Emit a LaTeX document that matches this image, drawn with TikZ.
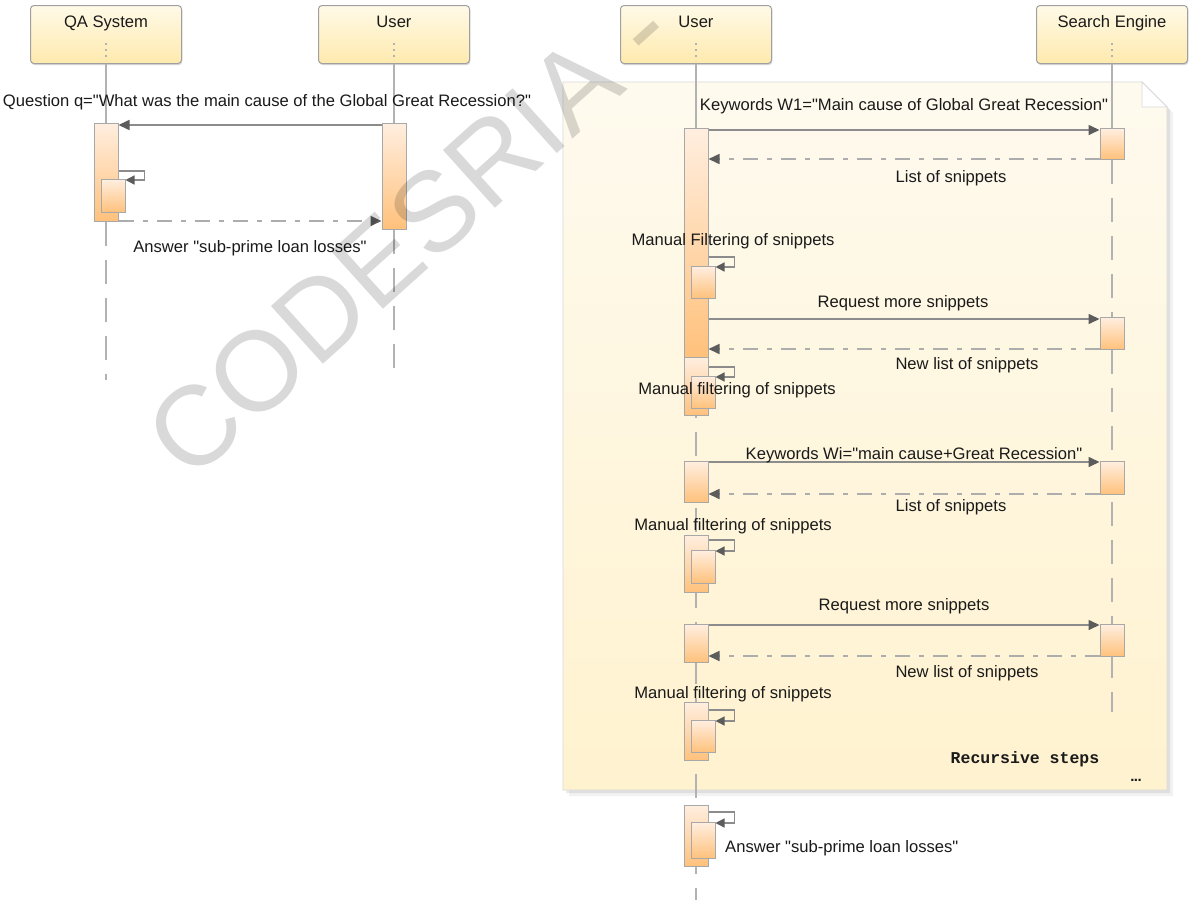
\documentclass[tikz,border=0pt]{standalone}
\usepackage{fontspec}
\setmainfont{Liberation Sans}[Ligatures=TeXOff]
\newfontfamily\codefont{Liberation Mono}
\usetikzlibrary{arrows.meta,calc,shadows}

\definecolor{txt}{HTML}{1A1A1A}
\definecolor{headedge}{HTML}{A0A0A0}
\definecolor{actedge}{HTML}{A8A8A8}
\definecolor{msgline}{HTML}{8C8C8C}
\definecolor{retline}{HTML}{ADADAD}
\definecolor{tipcol}{HTML}{5C5C5C}
\definecolor{acttop}{HTML}{FFEEDF}
\definecolor{actbot}{HTML}{FFC17B}
\definecolor{headtop}{HTML}{FFFAE7}
\definecolor{headbot}{HTML}{FFEAAE}
\definecolor{notetop}{HTML}{FEFAEE}
\definecolor{notebot}{HTML}{FFF2CF}
\definecolor{noteedge}{HTML}{DADADA}
\definecolor{lifecol}{HTML}{B2B2B2}

\tikzset{
  head/.style={draw=headedge, line width=1pt, rounded corners=3.5pt,
    top color=headtop, bottom color=headbot, minimum width=151pt,
    minimum height=58pt, anchor=north, inner sep=0pt,
    drop shadow={shadow xshift=0.8pt, shadow yshift=-1.6pt, opacity=0.3}},
  headtext/.style={inner sep=0pt, anchor=base, text=txt},
  headdots/.style={draw=lifecol, line width=1.5pt, dash pattern=on 2pt off 4pt},
  act/.style={draw=actedge, line width=1pt, top color=acttop,
    bottom color=actbot, minimum width=24pt, inner sep=0pt, anchor=north},
  lbl/.style={inner sep=0pt, text=txt},
  msg/.style={draw=msgline, line width=1.6pt,
    -{Triangle[length=11pt,width=10pt,color=tipcol]}},
  ret/.style={draw=retline, line width=1.6pt,
    dash pattern=on 15pt off 9pt on 5pt off 9pt,
    -{Triangle[length=11pt,width=10pt,color=tipcol]}},
  selfcall/.style={draw=msgline, line width=1.3pt,
    -{Triangle[length=9pt,width=9pt,color=tipcol]}},
  lifesolid/.style={draw=lifecol, line width=1.3pt},
  lifedash/.style={draw=lifecol, line width=1.3pt, dash pattern=on 24pt off 14pt},
}

\begin{document}
\begin{tikzpicture}[x=1pt, y=-1pt, font=\fontsize{16.6}{19}\selectfont]
\useasboundingbox (0,0) rectangle (1189,900);
\fill[white] (0,0) rectangle (1189,900);

% ---------- note frame for the recursive part ----------
\fill[black, opacity=0.05] (569,88) -- (1148,88) -- (1173,113) -- (1173,796) -- (569,796) -- cycle;
\fill[black, opacity=0.08] (566,85) -- (1145,85) -- (1170,110) -- (1170,793) -- (566,793) -- cycle;
\path[top color=notetop, bottom color=notebot, draw=noteedge, line width=0.8pt]
  (563,82) -- (1142,82) -- (1167,107) -- (1167,790) -- (563,790) -- cycle;
\filldraw[fill=white, draw=noteedge, line width=0.8pt] (1142,82) -- (1142,107) -- (1167,107) -- cycle;

% ---------- lifeline heads ----------
\node[head] (qa) at (106,5) {};
\node[head] (u1) at (394,5) {};
\node[head] (u2) at (696,5) {};
\node[head] (se) at (1112,5) {};
\node[headtext] (qaT) at ($(qa.north)+(0,22)$) {QA System};
\node[headtext] (u1T) at ($(u1.north)+(0,22)$) {User};
\node[headtext] (u2T) at ($(u2.north)+(0,22)$) {User};
\node[headtext] (seT) at ($(se.north)+(0,22)$) {Search Engine};
\foreach \h in {qa,u1,u2,se}
  \draw[headdots] ($(\h.north)+(0,38)$) -- ($(\h.north)+(0,56)$);

% ---------- end points of the lifelines ----------
\coordinate (qaEnd) at (106,380);
\coordinate (u1End) at (394,380);
\coordinate (u2Top) at (696,128);
\coordinate (u2End) at (696,900);
\coordinate (seEnd) at (1112,712);

% ---------- activations, left diagram ----------
\node[act, minimum height=98pt] (qa1) at (106,123) {};
\node[act, minimum height=106pt] (u1a) at (394,123) {};
\node[act, minimum height=31pt] (sa1) at (1112,128) {};

% lifelines, drawn before the bars that cover them
\draw[lifesolid] (qa.south) -- (qa1.north);
\draw[lifedash] (qa1.south) -- (qaEnd);
\draw[lifesolid] (u1.south) -- (u1a.north);
\draw[lifedash] (u1a.south) -- (u1End);
\draw[lifesolid] (se.south) -- (sa1.north);
\draw[lifedash] (sa1.south) -- (seEnd);
\draw[lifesolid] (u2.south) -- (u2Top);
\draw[lifedash] (u2Top) -- (u2End);

\node[act, minimum height=98pt] (qa1) at (106,123) {};
\node[act, minimum height=33pt] (qa2) at (113,179) {};
\node[act, minimum height=106pt] (u1a) at (394,123) {};

% ---------- activations, right diagram ----------
\node[act, minimum height=31pt] (sa1) at (1112,128) {};
\node[act, minimum height=32pt] (sa2) at (1112,317) {};
\node[act, minimum height=33pt] (sa3) at (1112,461) {};
\node[act, minimum height=32pt] (sa4) at (1112,624) {};

\node[act, minimum height=229pt] (ua1) at (696,128) {};
\node[act, minimum height=32pt] (ua1n) at (703,266) {};
\node[act, minimum height=58pt] (ua2) at (696,357) {};
\node[act, minimum height=32pt] (ua2n) at (703,376) {};
\node[act, minimum height=41pt] (ua3) at (696,461) {};
\node[act, minimum height=57pt] (ua4) at (696,535) {};
\node[act, minimum height=33pt] (ua4n) at (703,550) {};
\node[act, minimum height=38pt] (ua5) at (696,624) {};
\node[act, minimum height=58pt] (ua6) at (696,702) {};
\node[act, minimum height=32pt] (ua6n) at (703,720) {};
\node[act, minimum height=61pt] (ua7) at (696,805) {};
\node[act, minimum height=36pt] (ua7n) at (703,822) {};

% ---------- messages, left diagram ----------
\draw[msg] ($(u1a.north west)+(0,2)$) -- ($(u1a.north west -| qa1.east)+(0,2)$);
\draw[selfcall] ($(qa1.east |- qa2.north)+(0,-8)$) -| ($(qa2.north east)+(19,1)$) -- ($(qa2.north east)+(0,1)$);
\draw[ret] ($(qa1.south east)+(0,-1)$) -- ($(qa1.south east -| u1a.west)+(0,-1)$);

% ---------- messages, right diagram ----------
\draw[msg] ($(ua1.north east)+(0,2)$) -- ($(ua1.north east -| sa1.west)+(0,2)$);
\draw[ret] ($(sa1.south west)+(0,-1)$) -- ($(sa1.south west -| ua1.east)+(0,-1)$);
\draw[selfcall] ($(ua1.east |- ua1n.north)+(0,-9)$) -| ($(ua1n.north east)+(19,1)$) -- ($(ua1n.north east)+(0,1)$);
\draw[msg] ($(sa2.north west -| ua1.east)+(0,2)$) -- ($(sa2.north west)+(0,2)$);
\draw[ret] ($(sa2.south west)+(0,-1)$) -- ($(sa2.south west -| ua1.east)+(0,-1)$);
\draw[selfcall] ($(ua2.east |- ua2n.north)+(0,-9)$) -| ($(ua2n.north east)+(19,1)$) -- ($(ua2n.north east)+(0,1)$);
\draw[msg] ($(ua3.north east)+(0,1)$) -- ($(ua3.north east -| sa3.west)+(0,1)$);
\draw[ret] ($(sa3.south west)+(0,-1)$) -- ($(sa3.south west -| ua3.east)+(0,-1)$);
\draw[selfcall] ($(ua4.east |- ua4n.north)+(0,-10)$) -| ($(ua4n.north east)+(19,1)$) -- ($(ua4n.north east)+(0,1)$);
\draw[msg] ($(ua5.north east)+(0,1)$) -- ($(ua5.north east -| sa4.west)+(0,1)$);
\draw[ret] ($(sa4.south west)+(0,-1)$) -- ($(sa4.south west -| ua5.east)+(0,-1)$);
\draw[selfcall] ($(ua6.east |- ua6n.north)+(0,-10)$) -| ($(ua6n.north east)+(19,1)$) -- ($(ua6n.north east)+(0,1)$);
\draw[selfcall] ($(ua7.east |- ua7n.north)+(0,-10)$) -| ($(ua7n.north east)+(19,1)$) -- ($(ua7n.north east)+(0,1)$);

% ---------- labels ----------
\node[lbl] (lq) at (267,102) {Question q="What was the main cause of the Global Great Recession?"};
\node[lbl] (la1) at (250,248) {Answer "sub-prime loan losses"};

\node[lbl] (lk1) at (904,106) {Keywords W1="Main cause of Global Great Recession"};
\node[lbl] (ll1) at (951,178) {List of snippets};
\node[lbl] (lm1) at (733,241) {Manual Filtering of snippets};
\node[lbl] (lr1) at (903,303) {Request more snippets};
\node[lbl] (ln1) at (967,365) {New list of snippets};
\node[lbl] (lm2) at (737,390) {Manual filtering of snippets};
\node[lbl] (lk2) at (914,455) {Keywords Wi="main cause+Great Recession"};
\node[lbl] (ll2) at (951,507) {List of snippets};
\node[lbl] (lm3) at (733,526) {Manual filtering of snippets};
\node[lbl] (lr2) at (904,606) {Request more snippets};
\node[lbl] (ln2) at (967,673) {New list of snippets};
\node[lbl] (lm4) at (733,694) {Manual filtering of snippets};
\node[lbl, font=\codefont\bfseries\fontsize{16.5}{19}\selectfont] (lrec) at (1025,759) {Recursive steps};
\node[lbl, font=\bfseries\fontsize{15}{17}\selectfont] (ldots) at (1136,780) {.\kern-0.5pt.\kern-0.5pt.};
\node[lbl, anchor=west] (la2) at (725,848) {Answer "sub-prime loan losses"};

% ---------- watermark ----------
\node[rotate=42, anchor=base west, inner sep=0pt, text=black, text opacity=0.15,
  font=\fontsize{113}{113}\selectfont] (wm) at (190,484) {CODESRIA -};
\end{tikzpicture}
\end{document}
